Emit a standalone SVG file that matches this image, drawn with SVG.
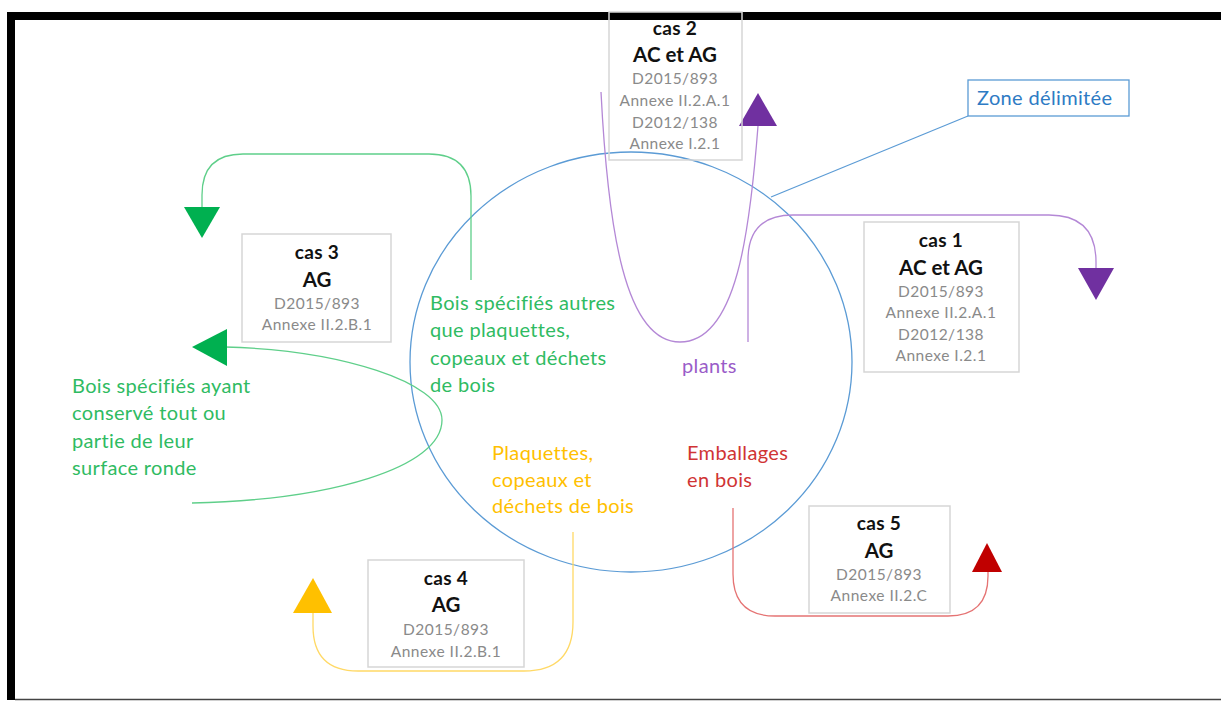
<svg xmlns="http://www.w3.org/2000/svg" width="1221" height="701" viewBox="0 0 1221 701">
<style>
.box{fill:none;stroke:#d6d6d6;stroke-width:1.5}
.t{font-family:Lato,"Liberation Sans",sans-serif;font-weight:bold;fill:#111;text-anchor:middle}
.t1{font-size:19px;letter-spacing:.3px}
.t2{font-size:20.5px}
.g{font-family:Lato,"Liberation Sans",sans-serif;font-size:15.5px;letter-spacing:.5px;fill:#8a8a8a;text-anchor:middle}
.lbl{font-family:Lato,"Liberation Sans",sans-serif;font-size:20px;letter-spacing:.35px}
.ln{fill:none;stroke-width:1.3}
</style>
<rect x="0" y="0" width="1221" height="701" fill="#fff"/>
<g id="frame">
<rect x="7" y="12" width="1214" height="8" fill="#000"/>
<rect x="7" y="12" width="8" height="688" fill="#000"/>
<line x1="15" y1="699.5" x2="1221" y2="699.5" stroke="#444" stroke-width="1.5"/>
</g>
<g id="zone">
<ellipse cx="631" cy="362" rx="221" ry="210" fill="none" stroke="#5b9bd5" stroke-width="1.3"/>
<line x1="968" y1="116" x2="771" y2="197" stroke="#5b9bd5" stroke-width="1.2"/>
<rect x="968" y="80" width="161" height="36" fill="#fff" stroke="#5b9bd5" stroke-width="1.3"/>
<text x="977" y="105" class="lbl" fill="#2e7bc4">Zone délimitée</text>
</g>
<g id="connectors">
<path class="ln" stroke="#b488d6" d="M601,92 C608,230 625,342 680,342 C737,342 750,230 758,126"/>
<polygon points="739,126 777,126 758,93" fill="#7030a0"/>
<path class="ln" stroke="#b488d6" d="M748,342 L748,260 Q748,215 793,215 L1049,215 Q1096,215 1096,262 L1096,268"/>
<polygon points="1078,268 1114,268 1096,300" fill="#7030a0"/>
<path class="ln" stroke="#5fcf8a" d="M471,280 L471,196 Q471,154 429,154 L243,154 Q202,154 202,195 L202,207"/>
<polygon points="184,207 220,207 202,238" fill="#00b050"/>
<path class="ln" stroke="#5fcf8a" d="M225,347 C340,350 442,382 442,420 C442,468 330,500 192,503"/>
<polygon points="227,329 227,366 192,347" fill="#00b050"/>
<path class="ln" stroke="#ffd966" d="M573,532 L573,622 Q573,671 524,671 L358,671 Q313,671 313,626 L313,613"/>
<polygon points="293,613 332,613 313,578" fill="#ffc000"/>
<path class="ln" stroke="#e57373" d="M733,508 L733,574 Q733,616 775,616 L948,616 Q988,616 988,576 L988,572"/>
<polygon points="972,572 1002,572 987,543" fill="#c00000"/>
</g>
<g id="labels">
<text class="lbl" fill="#2fbb62"><tspan x="430" y="310">Bois spécifiés autres</tspan><tspan x="430" y="337">que plaquettes,</tspan><tspan x="430" y="365">copeaux et déchets</tspan><tspan x="430" y="392">de bois</tspan></text>
<text class="lbl" fill="#2fbb62"><tspan x="72" y="393">Bois spécifiés ayant</tspan><tspan x="72" y="420">conservé tout ou</tspan><tspan x="72" y="448">partie de leur</tspan><tspan x="72" y="475">surface ronde</tspan></text>
<text class="lbl" fill="#9a5cc8" x="682" y="373">plants</text>
<text class="lbl" fill="#ffc000"><tspan x="492" y="460">Plaquettes,</tspan><tspan x="492" y="487">copeaux et</tspan><tspan x="492" y="513">déchets de bois</tspan></text>
<text class="lbl" fill="#d03434"><tspan x="687" y="460">Emballages</tspan><tspan x="687" y="487">en bois</tspan></text>
</g>
<g id="cas2">
<rect class="box" x="609" y="12" width="133" height="148"/>
<text class="t t1" x="675" y="35">cas 2</text>
<text class="t t2" x="675" y="62">AC et AG</text>
<text class="g" x="675" y="84">D2015/893</text>
<text class="g" x="675" y="106">Annexe II.2.A.1</text>
<text class="g" x="675" y="128">D2012/138</text>
<text class="g" x="675" y="149">Annexe I.2.1</text>
</g>
<g id="cas1">
<rect class="box" x="864" y="222" width="155" height="150"/>
<text class="t t1" x="941" y="247">cas 1</text>
<text class="t t2" x="941" y="275">AC et AG</text>
<text class="g" x="941" y="297">D2015/893</text>
<text class="g" x="941" y="318">Annexe II.2.A.1</text>
<text class="g" x="941" y="340">D2012/138</text>
<text class="g" x="941" y="361">Annexe I.2.1</text>
</g>
<g id="cas3">
<rect class="box" x="242" y="234" width="149" height="108"/>
<text class="t t1" x="317" y="259">cas 3</text>
<text class="t t2" x="317" y="287">AG</text>
<text class="g" x="317" y="309">D2015/893</text>
<text class="g" x="317" y="330">Annexe II.2.B.1</text>
</g>
<g id="cas4">
<rect class="box" x="368" y="560" width="156" height="107"/>
<text class="t t1" x="446" y="585">cas 4</text>
<text class="t t2" x="446" y="612">AG</text>
<text class="g" x="446" y="635">D2015/893</text>
<text class="g" x="446" y="657">Annexe II.2.B.1</text>
</g>
<g id="cas5">
<rect class="box" x="809" y="506" width="141" height="107"/>
<text class="t t1" x="879" y="530">cas 5</text>
<text class="t t2" x="879" y="558">AG</text>
<text class="g" x="879" y="580">D2015/893</text>
<text class="g" x="879" y="601">Annexe II.2.C</text>
</g>
</svg>
